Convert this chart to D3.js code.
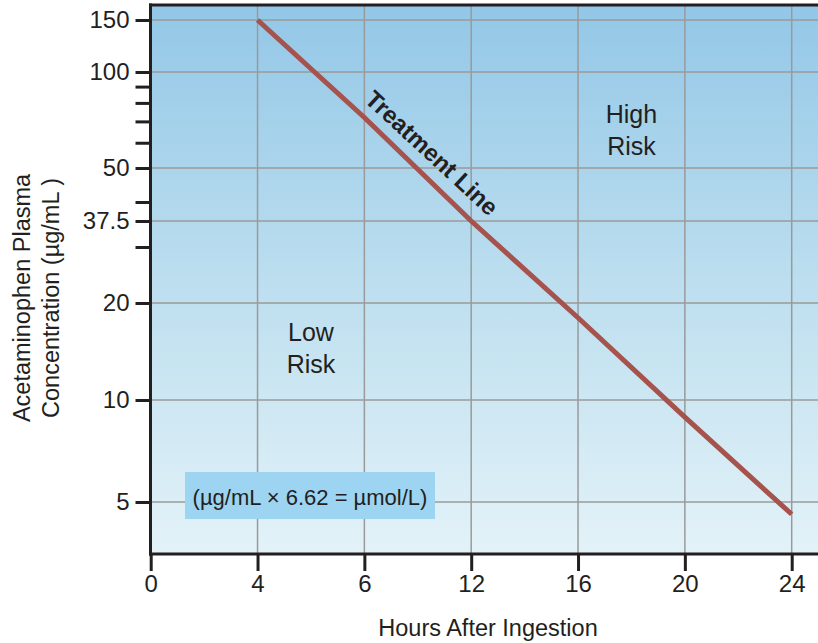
<!DOCTYPE html>
<html>
<head>
<meta charset="utf-8">
<script src="https://cdn.jsdelivr.net/npm/d3@7"></script>
<style>
  html, body { margin: 0; padding: 0; background: #fff; }
  svg { display: block; }
  text { font-family: "Liberation Sans", Arial, Helvetica, sans-serif; fill: #231f20; }
</style>
</head>
<body>
<svg id="chart" width="818" height="643"></svg>
<script>
// Hours after ingestion, as printed on the nomogram's time axis
const hours = ["0", "4", "6", "12", "16", "20", "24"];

// Printed concentration marks (µg/mL) and unlabeled minor marks
const majorTicks = [150, 100, 50, 37.5, 20, 10, 5];
const minorTicks = [90, 80, 70, 60, 40, 30];

// Calibration knots of the printed concentration axis
const axisKnots = [150, 100, 50, 40, 37.5, 30, 20, 10, 5];

// Treatment line: concentration at each marked hour
const lineHours = ["4", "6", "12", "16", "20", "24"];
const lineValues = [150, 72, 37.5, 18, 8.9, 4.6];

// Zone labels
const zones = [
  { hour: "16", hourNext: "20", value: 66, lines: ["High", "Risk"] },
  { hour: "4", hourNext: "6", value: 14.5, lines: ["Low", "Risk"] }
];

const W = 818, H = 643;
const plotL = 150.5, plotR = W, plotT = 5, plotB = 554;

const svg = d3.select("#chart");

const x = d3.scalePoint().domain(hours).range([150.7, 791.7]);
const y = d3.scaleLog()
  .domain(axisKnots)
  .range([20, 72, 168, 202, 221, 247, 303, 400, 502]);

// Background gradient
const defs = svg.append("defs");
const grad = defs.append("linearGradient").attr("id", "bg")
  .attr("x1", 0).attr("y1", 0).attr("x2", 0).attr("y2", 1);
grad.append("stop").attr("offset", "0%").attr("stop-color", "#93c7e7");
grad.append("stop").attr("offset", "50%").attr("stop-color", "#bcdeef");
grad.append("stop").attr("offset", "100%").attr("stop-color", "#e3f2f8");

svg.append("rect")
  .attr("x", plotL).attr("y", plotT)
  .attr("width", plotR - plotL).attr("height", plotB - plotT)
  .attr("fill", "url(#bg)");

// Grid
const grid = svg.append("g").attr("stroke", "#9a9a9a").attr("stroke-width", 1.5);
grid.selectAll("line.h").data(majorTicks).join("line")
  .attr("class", "h")
  .attr("x1", plotL).attr("x2", plotR)
  .attr("y1", d => y(d)).attr("y2", d => y(d));
grid.selectAll("line.v").data(hours.slice(1)).join("line")
  .attr("class", "v")
  .attr("x1", d => x(d)).attr("x2", d => x(d))
  .attr("y1", plotT).attr("y2", plotB);

// Unit conversion note
const note = svg.append("g");
note.append("rect")
  .attr("x", 185).attr("y", 472).attr("width", 250).attr("height", 47)
  .attr("fill", "#9dd4f1");
note.append("text")
  .attr("x", 310).attr("y", 497)
  .attr("text-anchor", "middle").attr("dominant-baseline", "central")
  .attr("font-size", 22)
  .text("(\u00b5g/mL \u00d7 6.62 = \u00b5mol/L)");

// Treatment line
const linePts = lineHours.map((h, i) => [x(h), y(lineValues[i])]);
svg.append("path")
  .datum(linePts)
  .attr("d", d3.line())
  .attr("fill", "none")
  .attr("stroke", "#a5534c")
  .attr("stroke-width", 5)
  .attr("stroke-linecap", "butt");

// Treatment line label, laid along the line
const p0 = linePts[0], p1 = linePts[linePts.length - 1];
const ang = Math.atan2(p1[1] - p0[1], p1[0] - p0[0]) * 180 / Math.PI;
const t = 0.3;
const lp = [p0[0] + t * (p1[0] - p0[0]), p0[1] + t * (p1[1] - p0[1])];
svg.append("text")
  .attr("transform", `translate(${lp[0]},${lp[1]}) rotate(${ang})`)
  .attr("y", -21)
  .attr("text-anchor", "middle").attr("dominant-baseline", "central")
  .attr("font-size", 24).attr("font-weight", "bold")
  .text("Treatment Line");

// Zone labels
zones.forEach(z => {
  const cx = (x(z.hour) + x(z.hourNext)) / 2;
  const cy = y(z.value);
  const tx = svg.append("text")
    .attr("text-anchor", "middle")
    .attr("font-size", 25);
  z.lines.forEach((s, i) => {
    tx.append("tspan").attr("x", cx).attr("y", cy + (i - 0.5) * 32 + 9).text(s);
  });
});

// Frame: top border, left and bottom axes
svg.append("line")
  .attr("x1", plotL - 1.5).attr("x2", plotR).attr("y1", plotT).attr("y2", plotT)
  .attr("stroke", "#231f20").attr("stroke-width", 3);

const yAxis = d3.axisLeft(y)
  .tickValues(majorTicks.concat(minorTicks))
  .tickSize(15)
  .tickPadding(6)
  .tickFormat(d => majorTicks.includes(d) ? String(d) : "");
const gy = svg.append("g").attr("transform", `translate(${plotL},0)`).call(yAxis);
gy.select(".domain").remove();
gy.selectAll(".tick line").attr("stroke", "#231f20").attr("stroke-width", 3);
gy.selectAll(".tick text").attr("font-size", 24).attr("font-family", null).attr("fill", "#231f20");
gy.append("line")
  .attr("x1", 0).attr("x2", 0).attr("y1", plotT - 1.5).attr("y2", plotB + 1.5)
  .attr("stroke", "#231f20").attr("stroke-width", 3);

const xAxis = d3.axisBottom(x).tickSize(17).tickPadding(4);
const gx = svg.append("g").attr("transform", `translate(0,${plotB})`).call(xAxis);
gx.select(".domain").remove();
gx.selectAll(".tick line").attr("stroke", "#231f20").attr("stroke-width", 3);
gx.selectAll(".tick text").attr("font-size", 24).attr("font-family", null).attr("fill", "#231f20");
gx.append("line")
  .attr("x1", plotL - 1.5).attr("x2", plotR).attr("y1", 0).attr("y2", 0)
  .attr("stroke", "#231f20").attr("stroke-width", 3);

// Axis titles
svg.append("text")
  .attr("x", 488).attr("y", 636)
  .attr("text-anchor", "middle")
  .attr("font-size", 23.5)
  .text("Hours After Ingestion");

const yt = svg.append("text")
  .attr("transform", "translate(0,298) rotate(-90)")
  .attr("text-anchor", "middle")
  .attr("font-size", 23.5);
yt.append("tspan").attr("x", 0).attr("y", 30).text("Acetaminophen Plasma");
yt.append("tspan").attr("x", 0).attr("y", 59).text("Concentration (\u00b5g/mL )");
</script>
</body>
</html>
